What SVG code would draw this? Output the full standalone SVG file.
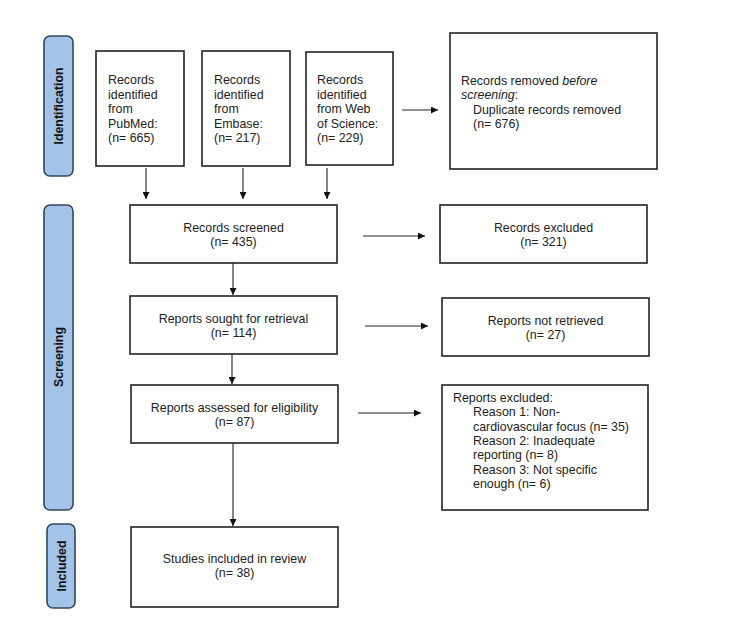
<svg xmlns="http://www.w3.org/2000/svg" width="750" height="630" viewBox="0 0 750 630">
<defs>
<marker id="ah" viewBox="0 0 10 10" refX="10" refY="5" markerWidth="7" markerHeight="7" markerUnits="userSpaceOnUse" orient="auto">
<path d="M0,0 L10,5 L0,10 z" fill="#111"/>
</marker>
<style>
.box{fill:#fff;stroke:#222;stroke-width:1.6}
.side{fill:#a3c3e8;stroke:#34475a;stroke-width:1.6}
.t{font-family:"Liberation Sans",Arial,sans-serif;font-size:12.4px;fill:#222}
.c{text-anchor:middle}
.st{font-family:"Liberation Sans",Arial,sans-serif;font-size:12.4px;font-weight:bold;fill:#111;text-anchor:middle}
.ln{stroke:#222;stroke-width:1.1;fill:none;marker-end:url(#ah)}
</style>
</defs>
<rect width="750" height="630" fill="#fff"/>
<g id="side-identification">
<rect class="side" x="44" y="36" width="29" height="140" rx="6"/>
<text class="st" transform="translate(63,106) rotate(-90)">Identification</text>
</g>
<g id="side-screening">
<rect class="side" x="44" y="205" width="29" height="305" rx="6"/>
<text class="st" transform="translate(63,357) rotate(-90)">Screening</text>
</g>
<g id="side-included">
<rect class="side" x="47" y="524" width="28" height="84" rx="6"/>
<text class="st" transform="translate(65.5,566) rotate(-90)">Included</text>
</g>
<g id="pubmed">
<rect class="box" x="96" y="51" width="88" height="115"/>
<text class="t" x="108"><tspan x="108" y="84">Records</tspan><tspan x="108" y="98.5">identified</tspan><tspan x="108" y="113">from</tspan><tspan x="108" y="127.5">PubMed:</tspan><tspan x="108" y="142">(n= 665)</tspan></text>
</g>
<g id="embase">
<rect class="box" x="202" y="51" width="88" height="115"/>
<text class="t"><tspan x="214" y="84">Records</tspan><tspan x="214" y="98.5">identified</tspan><tspan x="214" y="113">from</tspan><tspan x="214" y="127.5">Embase:</tspan><tspan x="214" y="142">(n= 217)</tspan></text>
</g>
<g id="wos">
<rect class="box" x="306" y="52" width="87" height="113"/>
<text class="t"><tspan x="317" y="84">Records</tspan><tspan x="317" y="98.5">identified</tspan><tspan x="317" y="113">from Web</tspan><tspan x="317" y="127.5">of Science:</tspan><tspan x="317" y="142">(n= 229)</tspan></text>
</g>
<g id="removed">
<rect class="box" x="450" y="33" width="207" height="136"/>
<text class="t"><tspan x="461" y="85">Records removed <tspan font-style="italic">before</tspan></tspan><tspan x="461" y="99"><tspan font-style="italic">screening</tspan>:</tspan><tspan x="473" y="113.5">Duplicate records removed</tspan><tspan x="473" y="128">(n= 676)</tspan></text>
</g>
<g id="screened">
<rect class="box" x="130" y="205" width="207" height="58"/>
<text class="t c"><tspan x="233.5" y="232">Records screened</tspan><tspan x="233.5" y="246">(n= 435)</tspan></text>
</g>
<g id="excluded1">
<rect class="box" x="440" y="205" width="207" height="58"/>
<text class="t c"><tspan x="543.5" y="232">Records excluded</tspan><tspan x="543.5" y="246">(n= 321)</tspan></text>
</g>
<g id="sought">
<rect class="box" x="130" y="296" width="207" height="58"/>
<text class="t c"><tspan x="233.5" y="323">Reports sought for retrieval</tspan><tspan x="233.5" y="337">(n= 114)</tspan></text>
</g>
<g id="notretrieved">
<rect class="box" x="442" y="298" width="207" height="58"/>
<text class="t c"><tspan x="545.5" y="325">Reports not retrieved</tspan><tspan x="545.5" y="339">(n= 27)</tspan></text>
</g>
<g id="assessed">
<rect class="box" x="131" y="385" width="207" height="58"/>
<text class="t c"><tspan x="234.5" y="412">Reports assessed for eligibility</tspan><tspan x="234.5" y="426">(n= 87)</tspan></text>
</g>
<g id="excluded2">
<rect class="box" x="442" y="385" width="206" height="125"/>
<text class="t"><tspan x="453" y="402">Reports excluded:</tspan><tspan x="473" y="416.3">Reason 1: Non-</tspan><tspan x="473" y="430.6">cardiovascular focus (n= 35)</tspan><tspan x="473" y="444.9">Reason 2: Inadequate</tspan><tspan x="473" y="459.2">reporting (n= 8)</tspan><tspan x="473" y="473.5">Reason 3: Not specific</tspan><tspan x="473" y="487.8">enough (n= 6)</tspan></text>
</g>
<g id="included">
<rect class="box" x="131" y="527" width="207" height="80"/>
<text class="t c"><tspan x="234.5" y="563">Studies included in review</tspan><tspan x="234.5" y="577">(n= 38)</tspan></text>
</g>
<g id="connectors">
<line class="ln" x1="402" y1="110" x2="438" y2="110"/>
<line class="ln" x1="146" y1="168" x2="146" y2="199"/>
<line class="ln" x1="243" y1="168" x2="243" y2="199"/>
<line class="ln" x1="327" y1="168" x2="327" y2="199"/>
<line class="ln" x1="233" y1="263" x2="233" y2="295"/>
<line class="ln" x1="363" y1="236" x2="425" y2="236"/>
<line class="ln" x1="232" y1="354" x2="232" y2="384"/>
<line class="ln" x1="365" y1="326" x2="428" y2="326"/>
<line class="ln" x1="233" y1="443" x2="233" y2="526"/>
<line class="ln" x1="358" y1="413" x2="421" y2="413"/>
</g>
</svg>
